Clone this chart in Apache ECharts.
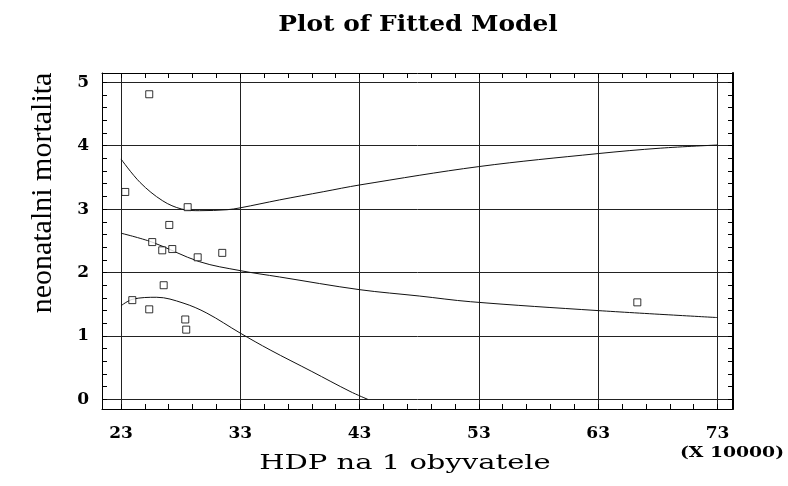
<!DOCTYPE html>
<html>
<head>
<meta charset="utf-8">
<script src="https://cdn.jsdelivr.net/npm/echarts@6/dist/echarts.min.js"></script>
<style>html,body{margin:0;padding:0;background:#fff}#c{width:788px;height:486px}</style>
</head>
<body>
<div id="c"></div>
<script>
// ---- data ----
const obsX = [25.37, 23.36, 28.59, 27.05, 25.62, 26.46, 27.30, 29.43, 31.49, 23.95, 25.37, 26.58, 28.39, 28.47, 66.28];
const obsY = [4.81, 3.27, 3.03, 2.75, 2.48, 2.35, 2.37, 2.24, 2.31, 1.565, 1.42, 1.80, 1.26, 1.10, 1.53];

const fitX = [23.0, 25.6, 29.6, 33.0, 36.3, 43.0, 48.0, 52.3, 63.0, 73.0];
const fitY = [2.62, 2.48, 2.17, 2.03, 1.93, 1.73, 1.63, 1.54, 1.40, 1.29];

const upperX = [23.0, 24.6, 26.5, 28.1, 29.6, 31.9, 33.0, 36.3, 40.0, 43.0, 53.0, 63.0, 68.2, 73.0];
const upperY = [3.79, 3.42, 3.13, 3.00, 2.975, 2.99, 3.02, 3.145, 3.275, 3.38, 3.67, 3.875, 3.96, 4.01];

const lowerX = [23.0, 24.0, 26.0, 28.2, 30.2, 33.0, 35.5, 39.0, 42.2, 43.7];
const lowerY = [1.476, 1.58, 1.61, 1.52, 1.36, 1.045, 0.78, 0.44, 0.126, 0.0];

const xTickLabels = [23, 33, 43, 53, 63, 73];
const yTickLabels = [0, 1, 2, 3, 4, 5];
const xMinorTicks = [23, 25, 27, 29, 31, 33, 35, 37, 39, 41, 43, 45, 47, 49, 51, 53, 55, 57, 59, 61, 63, 65, 67, 69, 71, 73];
const yMinorTicks = [0, 0.2, 0.4, 0.6, 0.8, 1, 1.2, 1.4, 1.6, 1.8, 2, 2.2, 2.4, 2.6, 2.8, 3, 3.2, 3.4, 3.6, 3.8, 4, 4.2, 4.4, 4.6, 4.8, 5];

const titleText = 'Plot of Fitted Model';
const xName = 'HDP na 1 obyvatele';
const yName = 'neonatalni mortalita';
const xScaleNote = '(X 10000)';

// ---- build ----
const pairs = (a, b) => a.map((v, i) => [v, b[i]]);
const X_MIN = 21.41, X_MAX = 74.3, Y_MIN = -0.151, Y_MAX = 5.145;
const ink = '#000';
const serif = '"DejaVu Serif", serif';

const chart = echarts.init(document.getElementById('c'), null, {renderer: 'canvas'});
const hiddenLbl = {show: false};
chart.setOption({
  backgroundColor: '#fff',
  animation: false,
  grid: {left: 102, right: 55, top: 73, bottom: 77, containLabel: false},
  xAxis: [
    {type: 'value', position: 'bottom', min: X_MIN, max: X_MAX,
     axisLine: {show: true, onZero: false, lineStyle: {color: ink, width: 1}},
     axisTick: {show: true, inside: true, length: 0, customValues: xTickLabels},
     axisLabel: {show: true, customValues: xTickLabels, margin: 16, color: ink,
                 fontFamily: serif, fontWeight: 'bold', fontSize: 17},
     splitLine: {show: true, lineStyle: {color: '#222', width: 1}}},
    {type: 'value', position: 'top', min: X_MIN, max: X_MAX,
     axisLine: {show: true, onZero: false, lineStyle: {color: ink, width: 1}},
     axisTick: {show: true, inside: true, length: 5, customValues: xMinorTicks, lineStyle: {color: ink}},
     axisLabel: hiddenLbl, splitLine: {show: false}},
    {type: 'value', position: 'bottom', min: X_MIN, max: X_MAX,
     axisLine: {show: false, onZero: false},
     axisTick: {show: true, inside: true, length: 5, customValues: xMinorTicks, lineStyle: {color: ink}},
     axisLabel: hiddenLbl, splitLine: {show: false}}
  ],
  yAxis: [
    {type: 'value', position: 'left', min: Y_MIN, max: Y_MAX,
     axisLine: {show: true, onZero: false, lineStyle: {color: ink, width: 1}},
     axisTick: {show: true, inside: true, length: 0, customValues: yTickLabels},
     axisLabel: {show: true, customValues: yTickLabels, margin: 13, color: ink,
                 fontFamily: serif, fontWeight: 'bold', fontSize: 17},
     splitLine: {show: true, lineStyle: {color: '#222', width: 1}}},
    {type: 'value', position: 'left', min: Y_MIN, max: Y_MAX,
     axisLine: {show: false, onZero: false},
     axisTick: {show: true, inside: true, length: 5, customValues: yMinorTicks, lineStyle: {color: ink}},
     axisLabel: hiddenLbl, splitLine: {show: false}},
    {type: 'value', position: 'right', min: Y_MIN, max: Y_MAX,
     axisLine: {show: true, onZero: false, lineStyle: {color: ink, width: 2}},
     axisTick: {show: true, inside: true, length: 5, customValues: yMinorTicks, lineStyle: {color: ink}},
     axisLabel: hiddenLbl, splitLine: {show: false}}
  ],
  series: [
    {type: 'line', name: 'upper', data: pairs(upperX, upperY), showSymbol: false, smooth: 0.35,
     lineStyle: {color: '#111', width: 1}, z: 3},
    {type: 'line', name: 'fit', data: pairs(fitX, fitY), showSymbol: false, smooth: 0.35,
     lineStyle: {color: '#111', width: 1}, z: 3},
    {type: 'line', name: 'lower', data: pairs(lowerX, lowerY), showSymbol: false, smooth: 0.35,
     lineStyle: {color: '#111', width: 1}, z: 3},
    {type: 'scatter', name: 'observed', data: pairs(obsX, obsY), symbol: 'rect', symbolSize: 7,
     itemStyle: {color: '#fff', borderColor: ink, borderWidth: 1}, z: 4}
  ],
  graphic: [
    {type: 'text', x: 418, y: 25, scaleX: 1.13, style: {text: titleText, fill: ink, font: 'bold 22px ' + serif,
      align: 'center', verticalAlign: 'middle'}},
    {type: 'text', x: 405, y: 464, scaleX: 1.45, style: {text: xName, fill: ink, font: '20px ' + serif,
      align: 'center', verticalAlign: 'middle'}},
    {type: 'text', x: 732, y: 453, scaleX: 1.25, style: {text: xScaleNote, fill: ink, font: 'bold 15px ' + serif,
      align: 'center', verticalAlign: 'middle'}},
    {type: 'text', x: 43, y: 193, rotation: Math.PI / 2, style: {text: yName, fill: ink,
      font: '30px "Liberation Serif", serif', align: 'center', verticalAlign: 'middle'}}
  ]
});
</script>
</body>
</html>
